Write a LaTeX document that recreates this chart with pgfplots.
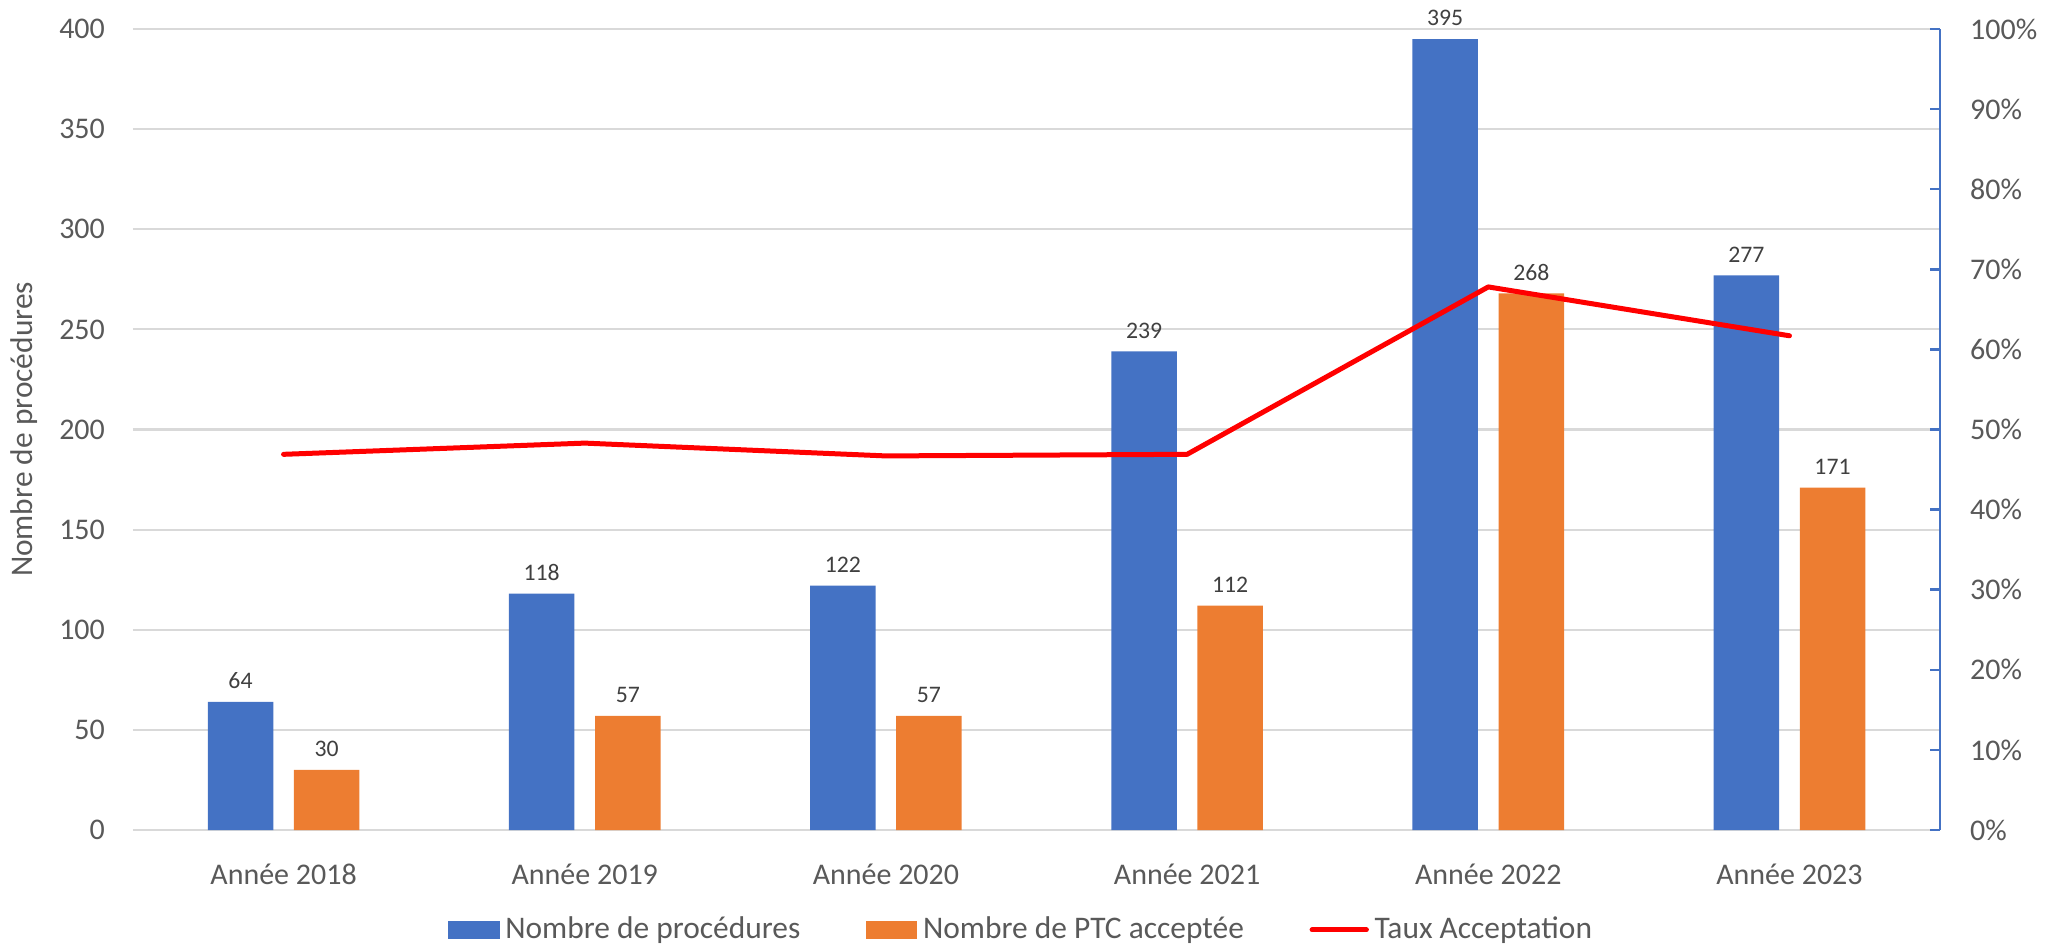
\documentclass[border=0pt]{standalone}
\usepackage{pgfplots}
\pgfplotsset{compat=1.18}
\usepackage{fontspec}
\setmainfont{Carlito}
\usetikzlibrary{calc}
\definecolor{cblue}{HTML}{4472C4}
\definecolor{corange}{HTML}{ED7D31}
\definecolor{cred}{HTML}{FF0000}
\definecolor{cgrid}{HTML}{D9D9D9}
\definecolor{ctext}{HTML}{595959}
\definecolor{clabel}{HTML}{404040}

\pgfplotstableread{
x blue orange rate
0 64 30 0.469
1 118 57 0.483
2 122 57 0.467
3 239 112 0.469
4 395 268 0.678
5 277 171 0.617
}\data

\begin{document}
\begin{tikzpicture}
\pgfplotsset{
  common/.style={
    scale only axis, width=632.45pt, height=280.35pt,
    xmin=-0.5, xmax=5.5,
    /pgf/number format/assume math mode=true,
  }
}
\begin{axis}[common,
  ymin=0, ymax=400,
  ytick={0,50,100,150,200,250,300,350,400},
  yticklabels={0,50,100,150,200,250,300,350,400},
  xtick={0,1,2,3,4,5},
  xticklabels={Année 2018,Année 2019,Année 2020,Année 2021,Année 2022,Année 2023},
  axis x line*=bottom,
  separate axis lines,
  y axis line style={draw=none},
  x axis line style={draw=cgrid, line width=1pt},
  xtick style={draw=none}, ytick style={draw=none},
  ymajorgrids, grid style={cgrid, line width=0.75pt},
  yticklabel style={font=\fontsize{10.5}{12.6}\selectfont, text=ctext, anchor=east, xshift=-6.3pt},
  xticklabel style={font=\fontsize{10.5}{12.6}\selectfont, text=ctext, anchor=north, yshift=-4pt},
  ylabel={Nombre de procédures},
  every axis y label/.style={at={(axis description cs:0,0.5)}, xshift=-38pt, rotate=90, anchor=center, font=\fontsize{11}{13}\selectfont, text=ctext},
  ybar, bar width=0.2175,
  nodes near coords,
  every node near coord/.append style={font=\fontsize{8.3}{10}\selectfont, text=clabel, anchor=south, yshift=1pt},
  legend columns=3,
  legend style={draw=none, fill=none, at={(0.4925,-0.1248)}, anchor=center,
    font=\fontsize{11}{13}\selectfont, text=ctext,
    /tikz/every even column/.append style={column sep=21pt},
    inner sep=0pt},
]
\coordinate (bl) at (rel axis cs:0,0);
\coordinate (tr) at (rel axis cs:1,1);
\addplot[fill=cblue, draw=none, bar shift=-0.143,
  legend image code/.code={\fill[cblue] (0pt,-3.15pt) rectangle (18pt,3.15pt);}]
  table[x=x, y=blue] {\data};
\addlegendentry{Nombre de procédures}
\addplot[fill=corange, draw=none, bar shift=0.143,
  legend image code/.code={\fill[corange] (0pt,-3.15pt) rectangle (18pt,3.15pt);}]
  table[x=x, y=orange] {\data};
\addlegendentry{Nombre de PTC acceptée}
\addlegendimage{legend image code/.code={\draw[cred, line width=1.75pt, line cap=round] (0pt,0pt) -- (19pt,0pt);}}
\addlegendentry{Taux Acceptation}
\end{axis}
\begin{axis}[common,
  ymin=0, ymax=1,
  axis y line*=right,
  axis x line=none,
  ytick={0,0.1,0.2,0.3,0.4,0.5,0.6,0.7,0.8,0.9,1},
  yticklabels={0\%,10\%,20\%,30\%,40\%,50\%,60\%,70\%,80\%,90\%,100\%},
  y axis line style={draw=cblue, line width=0.9pt},
  ytick style={draw=cblue, line width=0.9pt},
  tick align=inside, major tick length=3.5pt,
  yticklabel style={font=\fontsize{10.5}{12.6}\selectfont, text=ctext, anchor=west, xshift=7pt},
]
\addplot[cred, line width=1.75pt, line join=round, line cap=round, mark=none] table[x=x, y=rate] {\data};
\end{axis}
\pgfresetboundingbox
\path[use as bounding box] ($(bl)+(-46.55pt,-40.6pt)$) rectangle ($(tr)+(41.65pt,10.15pt)$);
\end{tikzpicture}
\end{document}
